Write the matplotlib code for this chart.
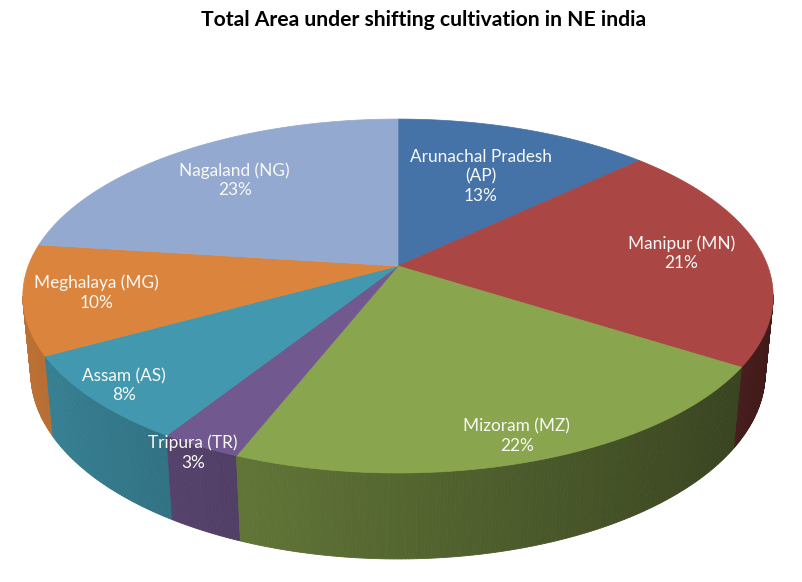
import numpy as np
import matplotlib
matplotlib.use("Agg")
import matplotlib.pyplot as plt
from matplotlib.patches import Polygon
from matplotlib.colors import to_rgb

# ---- data ----
states = ["Arunachal Pradesh\n(AP)", "Manipur (MN)", "Mizoram (MZ)", "Tripura (TR)",
          "Assam (AS)", "Meghalaya (MG)", "Nagaland (NG)"]
shares = [13, 21, 22, 3, 8, 10, 23]
colors = ["#4572A7", "#AA4643", "#89A54E", "#71588F", "#4198AF", "#DB843D", "#93A9CF"]
title = "Total Area under shifting cultivation in NE india"

# ---- layout (3D perspective pie) ----
label_r = [0.62, 0.78, 0.89, 1.03, 0.91, 0.81, 0.73]
CX, CY = 398, 266
PHI = np.radians(27.7)
DIST = 5.22
FOC = 1930
THICK = 0.237
s, c = np.sin(PHI), np.cos(PHI)


def project(X, Y, Z):
    depth = DIST - (Y * s + Z * c)
    up = Y * c - Z * s
    return CX + FOC * X / depth, CY - FOC * up / depth


def circ(alpha, r=1.0):
    # alpha measured clockwise from back (top of screen)
    return r * np.sin(alpha), -r * np.cos(alpha)


fig = plt.figure(figsize=(8.02, 5.82), dpi=100)
ax = fig.add_axes([0, 0, 1, 1])
ax.set_xlim(0, 802)
ax.set_ylim(582, 0)
ax.axis("off")

total = float(sum(shares))
bounds = np.concatenate([[0], np.cumsum(shares)]) / total * 2 * np.pi

# walls (front, visible part), back-to-front
zvis = 1.0 / (DIST * c)
quads = []
for i in range(len(shares)):
    a0, a1 = bounds[i], bounds[i + 1]
    n = max(2, int(np.degrees(a1 - a0) / 0.5))
    al = np.linspace(a0, a1, n + 1)
    base = np.array(to_rgb(colors[i]))
    for j in range(n):
        am = 0.5 * (al[j] + al[j + 1])
        Xm, Zm = circ(am)
        if Zm < zvis - 0.05:
            continue
        pts = []
        for a in (al[j], al[j + 1]):
            X, Z = circ(a)
            pts.append(project(X, 0, Z))
        for a in (al[j + 1], al[j]):
            X, Z = circ(a)
            pts.append(project(X, -THICK, Z))
        f = 0.62 - 0.25 * Xm
        col = np.clip(base * f, 0, 1)
        quads.append((Zm, pts, col))
quads.sort(key=lambda q: q[0])
for _, pts, col in quads:
    ax.add_patch(Polygon(pts, closed=True, facecolor=col, edgecolor=col, linewidth=0.6))

# top face
for i in range(len(shares)):
    a0, a1 = bounds[i], bounds[i + 1]
    al = np.linspace(a0, a1, 200)
    pts = [project(0, 0, 0)]
    for a in al:
        X, Z = circ(a)
        pts.append(project(X, 0, Z))
    ax.add_patch(Polygon(pts, closed=True, facecolor=colors[i], edgecolor=colors[i],
                         linewidth=0.5))

# labels
for i in range(len(shares)):
    am = 0.5 * (bounds[i] + bounds[i + 1])
    X, Z = circ(am, label_r[i])
    x, y = project(X, 0, Z)
    ax.text(x, y, f"{states[i]}\n{shares[i]}%", ha="center", va="center",
            color="#F8F8F4", fontsize=12.4, family="Lato", linespacing=1.25)

ax.text(424, 20, title, ha="center", va="center", fontsize=15.2, fontweight="bold",
        family="Lato", color="black")

fig.savefig("out.png", dpi=100)
